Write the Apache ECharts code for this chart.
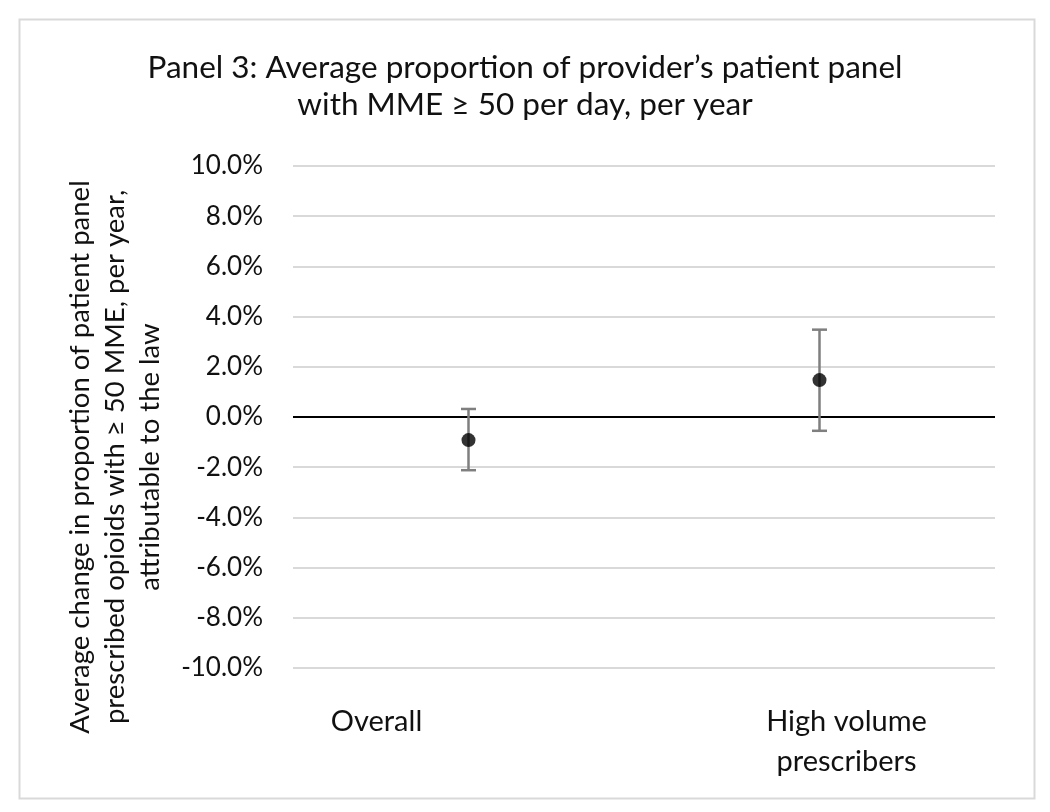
<!DOCTYPE html>
<html>
<head>
<meta charset="utf-8">
<script src="https://cdn.jsdelivr.net/npm/echarts@6/dist/echarts.min.js"></script>
<style>html,body{margin:0;padding:0;background:#fff;}#chart{width:1050px;height:812px;}</style>
</head>
<body>
<div id="chart"></div>
<script>
// Data (percent)
const categories = ['Overall', 'High volume\nprescribers'];
const estimates = [-0.92, 1.47];
const lowerCI = [-2.12, -0.55];
const upperCI = [0.32, 3.48];
const yTicks = { min: -10, max: 10, interval: 2 };
const titleText = 'Panel 3: Average proportion of provider\u2019s patient panel\nwith MME \u2265 50 per day, per year';
const yTitle = 'Average change in proportion of patient panel\nprescribed opioids with \u2265 50 MME, per year,\nattributable to the law';

const FONT = 'Lato';
const chart = echarts.init(document.getElementById('chart'), null, { renderer: 'canvas' });

const errData = categories.map((c, i) => [i, lowerCI[i], upperCI[i]]);
const ptData = categories.map((c, i) => [i, estimates[i]]);

chart.setOption({
  backgroundColor: '#ffffff',
  animation: false,
  title: {
    text: titleText,
    left: 'center',
    top: 44,
    textStyle: { fontFamily: FONT, fontSize: 31.5, fontWeight: 'normal', color: '#111', lineHeight: 37 }
  },
  graphic: [
    { type: 'rect', left: 17, top: 17, shape: { width: 1015, height: 779 },
      style: { fill: 'none', stroke: '#d9d9d9', lineWidth: 2 }, silent: true },
    { type: 'text', x: 115, y: 457, rotation: Math.PI / 2,
      style: { text: yTitle, fontFamily: FONT, fontSize: 27.5, fill: '#111', align: 'center', verticalAlign: 'middle', lineHeight: 35 } }
  ],
  grid: { left: 293, right: 55, top: 166, bottom: 144 },
  xAxis: {
    type: 'category',
    data: categories,
    boundaryGap: true,
    axisLine: { show: false, onZero: false },
    axisTick: { show: false },
    splitLine: { show: false },
    axisLabel: {
      margin: 34,
      interval: 0,
      formatter: function (v, i) {
        const key = i === 0 ? 'a' : 'b';
        return v.split('\n').map(s => '{' + key + '|' + s + '}').join('\n');
      },
      rich: {
        a: { fontFamily: FONT, fontSize: 29, color: '#111', lineHeight: 40, padding: [0, 184, 0, 0] },
        b: { fontFamily: FONT, fontSize: 29, color: '#111', lineHeight: 40, padding: [0, 0, 0, 54] }
      }
    }
  },
  yAxis: {
    type: 'value',
    min: yTicks.min,
    max: yTicks.max,
    interval: yTicks.interval,
    axisLine: { show: false },
    axisTick: { show: false },
    splitLine: { show: true, lineStyle: { color: '#d9d9d9', width: 2 } },
    axisLabel: {
      margin: 30,
      fontFamily: FONT, fontSize: 26, color: '#111',
      formatter: v => v.toFixed(1) + '%'
    }
  },
  series: [
    {
      type: 'custom',
      data: errData,
      z: 3,
      renderItem: function (params, api) {
        const x = api.value(0);
        const lo = api.coord([x, api.value(1)]);
        const hi = api.coord([x, api.value(2)]);
        const hw = 7.5;
        const style = { stroke: '#7f7f7f', lineWidth: 2.5 };
        return {
          type: 'group',
          children: [
            { type: 'line', shape: { x1: lo[0], y1: lo[1], x2: hi[0], y2: hi[1] }, style: style },
            { type: 'line', shape: { x1: lo[0] - hw, y1: lo[1], x2: lo[0] + hw, y2: lo[1] }, style: style },
            { type: 'line', shape: { x1: hi[0] - hw, y1: hi[1], x2: hi[0] + hw, y2: hi[1] }, style: style }
          ]
        };
      }
    },
    {
      type: 'scatter',
      data: ptData,
      symbol: 'circle',
      symbolSize: 14,
      z: 5,
      itemStyle: { color: '#000' },
      markLine: {
        silent: true,
        symbol: ['none', 'none'],
        label: { show: false },
        lineStyle: { color: '#000', width: 2, type: 'solid' },
        data: [{ yAxis: 0 }],
        z: 2
      }
    }
  ]
});
</script>
</body>
</html>
